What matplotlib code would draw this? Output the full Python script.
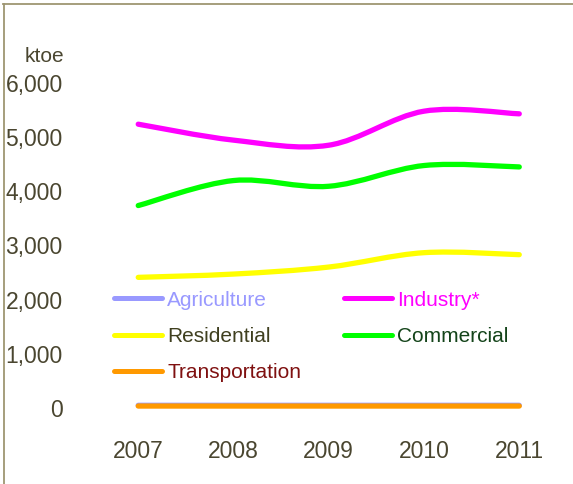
import matplotlib
matplotlib.use('Agg')
import matplotlib.pyplot as plt
from matplotlib.path import Path
from matplotlib.patches import PathPatch
from matplotlib.lines import Line2D

# Final energy consumption by sector (ktoe)
years = [2007, 2008, 2009, 2010, 2011]
agriculture = [42, 42, 42, 42, 42]
industry = [5245, 4950, 4856, 5486, 5437]
residential = [2410, 2471, 2601, 2867, 2830]
commercial = [3739, 4202, 4096, 4480, 4454]
transportation = [28, 28, 28, 28, 28]

ytick_vals = [0, 1000, 2000, 3000, 4000, 5000, 6000]
ytick_labels = ['0', '1,000', '2,000', '3,000', '4,000', '5,000', '6,000']

txt_col = '#4a4630'
plt.rcParams['font.family'] = ['Liberation Sans', 'DejaVu Sans']


# smooth line like the spreadsheet "smoothed line" option (Catmull-Rom -> Bezier)
def smooth_path(xs, ys):
  n = len(xs)
  verts = [(xs[0], ys[0])]
  codes = [Path.MOVETO]
  for i in range(n - 1):
    x0, y0 = (xs[i - 1], ys[i - 1]) if i > 0 else (xs[i], ys[i])
    x3, y3 = (xs[i + 2], ys[i + 2]) if i + 2 < n else (xs[i + 1], ys[i + 1])
    c1 = (xs[i] + (xs[i + 1] - x0) / 6.0, ys[i] + (ys[i + 1] - y0) / 6.0)
    c2 = (xs[i + 1] - (x3 - xs[i]) / 6.0, ys[i + 1] - (y3 - ys[i]) / 6.0)
    verts += [c1, c2, (xs[i + 1], ys[i + 1])]
    codes += [Path.CURVE4] * 3
  return Path(verts, codes)


fig = plt.figure(figsize=(5.73, 4.84), dpi=100)
ax = fig.add_axes([90.6 / 573, 1 - 441.6 / 484, 476.3 / 573, 374.4 / 484])

series = [
  ('Agriculture', agriculture, '#9999ff', '#9999ff'),
  ('Transportation', transportation, '#ff9900', '#7f1010'),
  ('Residential', residential, '#ffff00', '#3f3f1f'),
  ('Commercial', commercial, '#00ff00', '#14441a'),
  ('Industry*', industry, '#ff00ff', '#ff00ff'),
]
handles = {}
for name, vals, col, tcol in series:
  ax.add_patch(PathPatch(smooth_path(years, vals), facecolor='none',
                         edgecolor=col, lw=3.8, capstyle='round'))
  handles[name] = (Line2D([], [], color=col, lw=3.6, solid_capstyle='round'), tcol)

ax.set_xlim(2006.5, 2011.5)
ax.set_ylim(-630, 6300)
ax.set_xticks(years)
ax.set_xticklabels([str(y) for y in years])
ax.set_yticks(ytick_vals)
ax.set_yticklabels(ytick_labels)
ax.tick_params(length=0, labelsize=16.5, colors=txt_col)
ax.tick_params(axis='y', pad=20)
ax.tick_params(axis='x', pad=-1)
for s in ax.spines.values(): s.set_visible(False)

fig.text(25 / 573, 1 - 57 / 484, 'ktoe', fontsize=15, color=txt_col, va='center', ha='left')

# legend: column-major order so rows read Agriculture/Industry, Residential/Commercial, Transportation
order = ['Agriculture', 'Residential', 'Transportation', 'Industry*', 'Commercial']
leg = ax.legend([handles[k][0] for k in order], order, ncol=2, frameon=False,
                loc='upper left', bbox_to_anchor=(114 / 573, 1 - 290.5 / 484),
                bbox_transform=fig.transFigure, fontsize=15, borderpad=0,
                borderaxespad=0, handlelength=2.3, handletextpad=0.25,
                columnspacing=2.05, labelspacing=0.84)
for t, k in zip(leg.get_texts(), order):
  t.set_color(handles[k][1])

# frame lines at top and left of the picture
fig.add_artist(Line2D([3 / 573, 1], [1 - 3.5 / 484] * 2, color='#9e9672', lw=1.3, transform=fig.transFigure))
fig.add_artist(Line2D([3.5 / 573] * 2, [0, 1 - 3.5 / 484], color='#9e9672', lw=1.3, transform=fig.transFigure))

fig.savefig('out.png', dpi=100)
